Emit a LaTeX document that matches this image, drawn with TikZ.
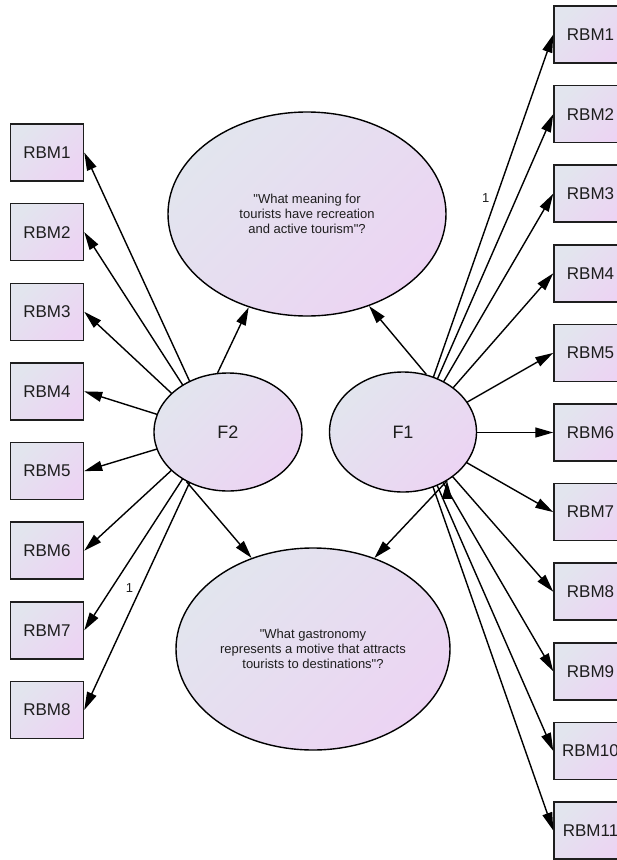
\documentclass[tikz,border=0pt]{standalone}
\usepackage{fontspec}
\setmainfont{Liberation Sans}[Ligatures=TeXOff]
\usetikzlibrary{arrows.meta,shapes}
\definecolor{shadeA}{RGB}{226,229,238}
\definecolor{shadeB}{RGB}{236,212,243}
\definecolor{ink}{RGB}{30,30,30}
\tikzstyle{obs}=[rectangle, draw=ink, line width=1.5pt, minimum width=73pt,
                minimum height=57pt, inner sep=0, top color=shadeA,
                bottom color=shadeB, shading angle=45, text=ink,
                font=\fontsize{17}{20}\selectfont]
\tikzstyle{lat}=[ellipse, draw=black, line width=1.4pt, inner sep=0,
                top color=shadeA, bottom color=shadeB, shading angle=45,
                text=ink, align=center, font=\fontsize{13}{15}\selectfont]
\tikzstyle{reg}=[draw=black, line width=1.4pt, -{Triangle[length=18pt,width=10pt]}]
\tikzstyle{elabel}=[inner sep=1pt, text=ink, font=\fontsize{13}{15}\selectfont]
\begin{document}
\begin{tikzpicture}[x=1pt,y=-1pt]
\useasboundingbox (0,0) rectangle (617,860);
\clip (0,0) rectangle (617,860);
% indicators of F2
\node[obs] (l1) at (47,152.5) {RBM1};
\node[obs] (l2) at (47,232.1) {RBM2};
\node[obs] (l3) at (47,311.8) {RBM3};
\node[obs] (l4) at (47,391.4) {RBM4};
\node[obs] (l5) at (47,471.1) {RBM5};
\node[obs] (l6) at (47,550.7) {RBM6};
\node[obs] (l7) at (47,630.3) {RBM7};
\node[obs] (l8) at (47,710.0) {RBM8};
% indicators of F1
\node[obs] (r1) at (590.5,34.5) {RBM1};
\node[obs] (r2) at (590.5,114.1) {RBM2};
\node[obs] (r3) at (590.5,193.7) {RBM3};
\node[obs] (r4) at (590.5,273.3) {RBM4};
\node[obs] (r5) at (590.5,352.9) {RBM5};
\node[obs] (r6) at (590.5,432.5) {RBM6};
\node[obs] (r7) at (590.5,512.1) {RBM7};
\node[obs] (r8) at (590.5,591.7) {RBM8};
\node[obs] (r9) at (590.5,671.3) {RBM9};
\node[obs] (r10) at (590.5,750.9) {RBM10};
\node[obs] (r11) at (590.5,830.5) {RBM11};
\coordinate (f2hub) at (213,432);
\coordinate (f1hub) at (414,432.5);
\path[reg]
  (f2hub) edge (l1.east)
  (f2hub) edge (l2.east)
  (f2hub) edge (l3.east)
  (f2hub) edge (l4.east)
  (f2hub) edge (l5.east)
  (f2hub) edge (l6.east)
  (f2hub) edge (l7.east)
  (f2hub) edge node[elabel, pos=0.56, left=6pt] {1} (l8.east);
\path[reg]
  (f1hub) edge node[elabel, pos=0.59, left=5pt] {1} (r1.west)
  (f1hub) edge (r2.west)
  (f1hub) edge (r3.west)
  (f1hub) edge (r4.west)
  (f1hub) edge (r5.west)
  (f1hub) edge (r6.west)
  (f1hub) edge (r7.west)
  (f1hub) edge (r8.west)
  (f1hub) edge (r9.west)
  (f1hub) edge (r10.west)
  (f1hub) edge (r11.west);
% factors, drawn over the line ends
\node[lat, minimum width=148pt, minimum height=118pt,
      font=\fontsize{18}{20}\selectfont] (F2) at (228,432) {F2};
\node[lat, minimum width=147pt, minimum height=120pt,
      font=\fontsize{18}{20}\selectfont] (F1) at (403,432) {F1};
\node[lat, minimum width=278pt, minimum height=204pt] (mean) at (307,214)
  {"What meaning for\\tourists have recreation\\and active tourism"?};
\node[lat, minimum width=274pt, minimum height=202pt] (gastro) at (313,649)
  {"What gastronomy\\represents a motive that attracts\\tourists to destinations"?};
\path[reg]
  (F2.100) edge (mean.238)
  (F1.68) edge (mean.-56)
  (F2.-130) edge (gastro.124)
  (F1.-48) edge (gastro.56);
\end{tikzpicture}
\end{document}
